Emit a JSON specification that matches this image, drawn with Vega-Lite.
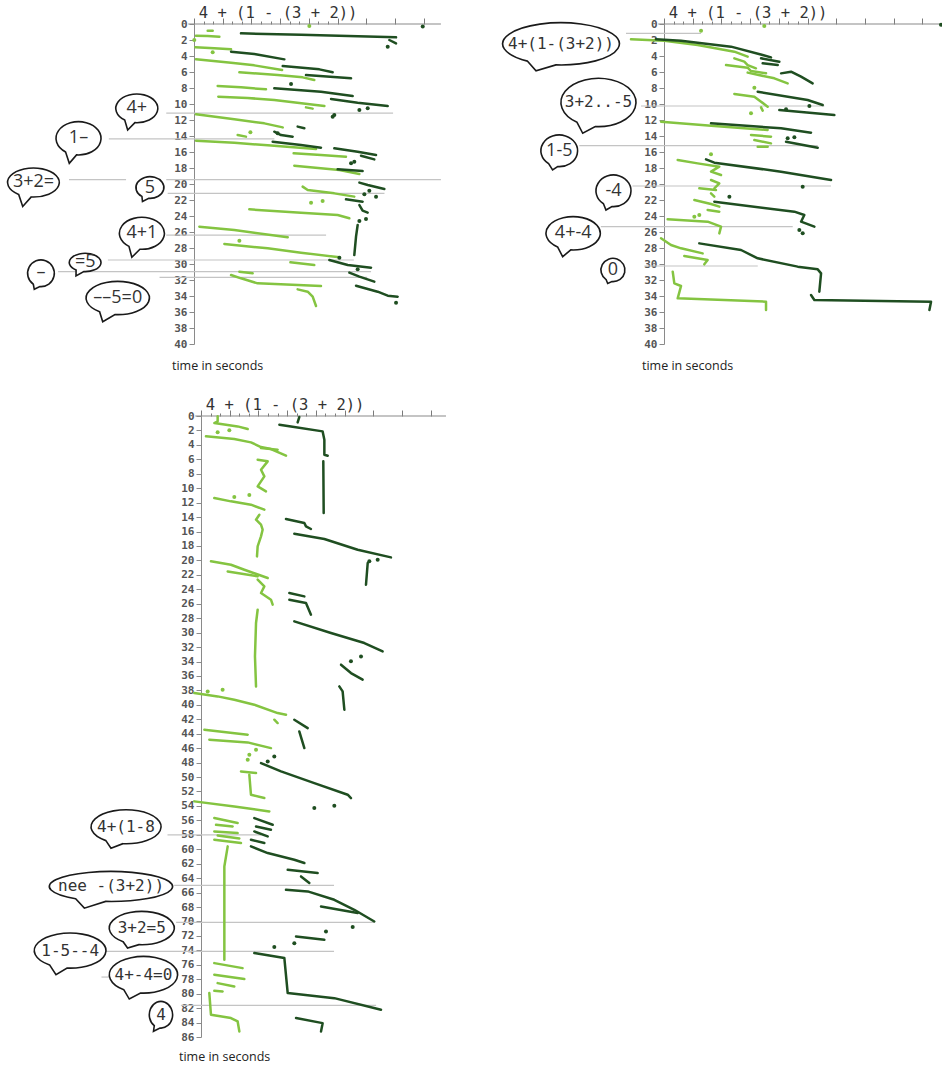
{
  "$schema": "https://vega.github.io/schema/vega-lite/v6.json",
  "background": "white",
  "padding": {"left": 4, "top": 6, "right": 0, "bottom": 4},
  "autosize": {"type": "pad"},
  "config": {"view": {"stroke": null}, "font": "DejaVu Sans"},
  "datasets": {
    "p1": [
      {"id": "a1", "g": "light", "u": [1.43, 1.95], "t": [0.83, 0.83]},
      {"id": "a2", "g": "light", "u": [0.21, 1.43, 2.65], "t": [1.46, 1.5, 1.58]},
      {"id": "a3", "g": "light", "u": [0.14, 2.12, 3.87], "t": [2.92, 3.04, 3.17]},
      {"id": "a4", "g": "light", "u": [0.21, 3.87, 6.3, 9.2], "t": [4.42, 4.83, 5.17, 5.75]},
      {"id": "a5", "g": "light", "u": [4.74, 8.74, 11.35, 12.57], "t": [6.04, 6.38, 6.67, 7.0]},
      {"id": "a6", "g": "light", "u": [2.47, 4.91, 7.52], "t": [7.75, 7.92, 8.17]},
      {"id": "a7", "g": "light", "u": [2.54, 5.61, 8.39, 13.62], "t": [9.08, 9.25, 9.5, 10.25]},
      {"id": "a8", "g": "light", "u": [11.7, 12.4], "t": [10.42, 10.58]},
      {"id": "a9", "g": "light", "u": [0.21, 4.21, 7.35, 9.27], "t": [11.29, 11.92, 12.42, 12.92]},
      {"id": "a10", "g": "light", "u": [4.56, 5.43], "t": [13.88, 14.08]},
      {"id": "a11", "g": "light", "u": [0.21, 4.21, 7.7, 12.75], "t": [14.58, 14.83, 15.17, 15.63]},
      {"id": "a12", "g": "light", "u": [10.41, 13.27, 15.88], "t": [16.17, 16.38, 16.58]},
      {"id": "a13", "g": "light", "u": [10.48, 15.19, 17.28], "t": [17.71, 18.25, 18.75]},
      {"id": "a14", "g": "light", "u": [11.35, 11.88, 14.66, 16.75], "t": [20.33, 20.75, 21.17, 21.58]},
      {"id": "a15", "g": "light", "u": [5.78, 11.18, 15.01, 16.23], "t": [23.17, 23.58, 23.88, 24.29]},
      {"id": "a16", "g": "light", "u": [0.56, 4.21, 9.79], "t": [25.33, 25.75, 26.67]},
      {"id": "a17", "g": "light", "u": [3.17, 7.7, 11.18, 15.19], "t": [27.5, 28.04, 28.58, 29.17]},
      {"id": "a18", "g": "light", "u": [10.07, 12.57], "t": [29.79, 30.13]},
      {"id": "a19", "g": "light", "u": [4.74, 6.13], "t": [30.96, 31.17]},
      {"id": "a20", "g": "light", "u": [3.87, 4.91, 6.65, 13.27], "t": [31.38, 31.79, 32.42, 32.75]},
      {"id": "a21", "g": "light", "u": [10.83, 11.88, 12.4, 12.75], "t": [33.17, 33.46, 34.08, 35.25]},
      {"id": "b1", "g": "dark", "u": [4.91, 11.18, 21.11], "t": [1.17, 1.33, 1.67]},
      {"id": "b2", "g": "dark", "u": [20.41, 21.11], "t": [2.0, 2.42]},
      {"id": "b3", "g": "dark", "u": [3.87, 6.3, 9.44], "t": [3.46, 3.75, 4.42]},
      {"id": "b4", "g": "dark", "u": [9.27, 13.1, 14.49], "t": [5.25, 5.67, 6.04]},
      {"id": "b5", "g": "dark", "u": [11.7, 16.41], "t": [6.38, 6.79]},
      {"id": "b6", "g": "dark", "u": [8.39, 13.27, 16.58], "t": [8.04, 8.46, 9.0]},
      {"id": "b7", "g": "dark", "u": [14.32, 17.1, 20.24], "t": [9.38, 9.83, 10.25]},
      {"id": "b8", "g": "dark", "u": [10.83, 11.53], "t": [12.83, 13.04]},
      {"id": "b9", "g": "dark", "u": [8.39, 9.09, 10.31], "t": [13.46, 13.88, 14.08]},
      {"id": "b10", "g": "dark", "u": [8.22, 11.18, 13.27], "t": [14.71, 15.13, 15.46]},
      {"id": "b11", "g": "dark", "u": [14.66, 17.1, 19.02], "t": [15.54, 15.96, 16.38]},
      {"id": "b12", "g": "dark", "u": [17.45, 18.84], "t": [16.46, 16.92]},
      {"id": "b13", "g": "dark", "u": [15.01, 17.62], "t": [18.17, 18.38]},
      {"id": "b14", "g": "dark", "u": [17.28, 18.15, 19.89], "t": [19.83, 20.13, 20.63]},
      {"id": "b15", "g": "dark", "u": [15.88, 17.62], "t": [21.92, 22.21]},
      {"id": "b16", "g": "dark", "u": [17.28, 17.62, 18.15], "t": [22.63, 23.33, 23.58]},
      {"id": "b17", "g": "dark", "u": [17.1, 16.93, 16.75], "t": [25.13, 26.58, 28.88]},
      {"id": "b18", "g": "dark", "u": [14.14, 16.06, 18.5], "t": [29.5, 30.13, 30.46]},
      {"id": "b19", "g": "dark", "u": [16.23, 17.28, 18.84], "t": [31.08, 31.58, 32.21]},
      {"id": "b20", "g": "dark", "u": [16.93, 19.19, 20.24, 21.28], "t": [32.71, 33.46, 33.96, 34.08]}
    ],
    "dots1": [
      {"g": "light", "u": 0.03, "t": 2.0}, {"g": "light", "u": 1.95, "t": 3.54}, {"g": "light", "u": 4.74, "t": 27.08},
      {"g": "light", "u": 5.89, "t": 13.54}, {"g": "light", "u": 12.23, "t": 22.33}, {"g": "light", "u": 13.44, "t": 22.13},
      {"g": "light", "u": 12.05, "t": 0.25},
      {"g": "dark", "u": 20.24, "t": 2.83}, {"g": "dark", "u": 10.14, "t": 7.5}, {"g": "dark", "u": 17.28, "t": 10.75},
      {"g": "dark", "u": 18.15, "t": 10.54}, {"g": "dark", "u": 14.49, "t": 11.58}, {"g": "dark", "u": 14.66, "t": 11.38},
      {"g": "dark", "u": 16.41, "t": 17.42}, {"g": "dark", "u": 16.75, "t": 17.21}, {"g": "dark", "u": 17.8, "t": 21.29},
      {"g": "dark", "u": 18.32, "t": 20.83}, {"g": "dark", "u": 19.02, "t": 21.58}, {"g": "dark", "u": 17.28, "t": 24.63},
      {"g": "dark", "u": 17.97, "t": 24.38}, {"g": "dark", "u": 15.19, "t": 29.21}, {"g": "dark", "u": 17.1, "t": 30.67},
      {"g": "dark", "u": 21.11, "t": 34.83}, {"g": "dark", "u": 23.9, "t": 0.3}, {"g": "dark", "u": 8.74, "t": 13.67}
    ],
    "lines1": [
      {"t": 11.15, "u": -2.9, "u2": 20.8}, {"t": 14.35, "u": -8.9, "u2": 8.4}, {"t": 19.45, "u": -13.06, "u2": -7.1},
      {"t": 19.45, "u": -2.9, "u2": 25.8}, {"t": 21.17, "u": -2.75, "u2": 19.9}, {"t": 26.4, "u": -2.9, "u2": 13.8},
      {"t": 29.5, "u": -9.0, "u2": 16.7}, {"t": 30.96, "u": -14.2, "u2": 18.5}, {"t": 31.67, "u": -3.6, "u2": 18.1}
    ],
    "axis1": [{"t": 0, "u": -0.6, "u2": 25.8}],
    "expr1": [{"t": -0.7, "u": 0.5, "text": "4 + (1 - (3 + 2))"}],
    "caption1": [{"t": 42.7, "u": -2.3, "text": "time in seconds"}],
    "bubbles1": [
      {"label": "4+", "u": -5.98, "t": 10.54}, {"label": "1–", "u": -12.07, "t": 14.29},
      {"label": "3+2=", "u": -16.77, "t": 19.81}, {"label": "5", "u": -4.6, "t": 20.44},
      {"label": "4+1", "u": -5.45, "t": 26.16}, {"label": "=5", "u": -11.37, "t": 29.81},
      {"label": "–", "u": -15.99, "t": 31.16}, {"label": "––5=0", "u": -7.97, "t": 34.25}
    ],
    "p2": [
      {"id": "c1", "g": "light", "u": [-3.45, 0.03, 3.52, 7.35, 8.74], "t": [1.92, 2.08, 2.63, 3.46, 4.08]},
      {"id": "c2", "g": "light", "u": [7.35, 8.39, 8.74, 9.61], "t": [4.29, 4.71, 5.13, 5.54]},
      {"id": "c3", "g": "light", "u": [6.48, 8.74, 9.09, 10.66], "t": [5.13, 5.46, 5.88, 6.17]},
      {"id": "c4", "g": "light", "u": [8.74, 11.53, 12.92], "t": [6.08, 6.79, 7.42]},
      {"id": "c5", "g": "light", "u": [7.35, 9.44, 10.14, 10.83], "t": [8.75, 9.08, 9.71, 10.33]},
      {"id": "c6", "g": "light", "u": [10.14, 10.31], "t": [10.42, 10.83]},
      {"id": "c7", "g": "light", "u": [-0.31, 5.26, 10.83], "t": [12.21, 12.75, 13.25]},
      {"id": "c8", "g": "light", "u": [9.09, 11.18], "t": [13.88, 14.08]},
      {"id": "c9", "g": "light", "u": [9.44, 11.18], "t": [14.5, 14.92]},
      {"id": "c10", "g": "light", "u": [9.79, 10.83], "t": [15.33, 15.33]},
      {"id": "c11", "g": "light", "u": [1.43, 3.52, 5.78, 4.91, 5.96], "t": [17.0, 17.42, 17.83, 18.46, 18.88]},
      {"id": "c12", "g": "light", "u": [4.91, 5.78, 5.26], "t": [19.5, 19.92, 20.54]},
      {"id": "c13", "g": "light", "u": [3.69, 5.43], "t": [20.54, 20.75]},
      {"id": "c14", "g": "light", "u": [4.91, 5.26], "t": [21.17, 21.58]},
      {"id": "c15", "g": "light", "u": [3.17, 4.91, 5.78], "t": [22.0, 22.5, 22.83]},
      {"id": "c16", "g": "light", "u": [4.56, 5.78], "t": [23.25, 23.46]},
      {"id": "c17", "g": "light", "u": [0.38, 4.56, 5.96, 5.78], "t": [24.42, 24.71, 25.33, 26.17]},
      {"id": "c18", "g": "light", "u": [-0.31, 0.73, 1.78, 4.04], "t": [26.79, 27.63, 28.04, 28.67]},
      {"id": "c19", "g": "light", "u": [2.12, 4.56, 4.21], "t": [29.0, 29.5, 30.04]},
      {"id": "c20", "g": "light", "u": [0.91, 1.08, 1.78, 1.43, 10.66, 10.66], "t": [30.96, 32.42, 32.75, 34.29, 34.71, 35.75]},
      {"id": "d1", "g": "dark", "u": [-0.84, 1.78, 7.0, 10.31, 11.18], "t": [1.92, 2.08, 2.83, 3.88, 4.17]},
      {"id": "d2", "g": "dark", "u": [10.14, 12.05], "t": [4.29, 4.71]},
      {"id": "d3", "g": "dark", "u": [10.31, 11.88], "t": [4.92, 5.13]},
      {"id": "d4", "g": "dark", "u": [12.23, 13.27, 14.32, 15.53], "t": [6.17, 5.96, 6.58, 7.42]},
      {"id": "d5", "g": "dark", "u": [9.79, 15.01, 16.58], "t": [8.46, 9.5, 10.13]},
      {"id": "d6", "g": "dark", "u": [12.05, 17.8], "t": [10.75, 11.38]},
      {"id": "d7", "g": "dark", "u": [4.91, 12.23, 15.36], "t": [12.42, 13.04, 13.58]},
      {"id": "d8", "g": "dark", "u": [12.75, 16.06], "t": [14.71, 15.46]},
      {"id": "d9", "g": "dark", "u": [4.39, 5.26, 12.23, 17.45], "t": [16.92, 17.33, 18.46, 19.5]},
      {"id": "d10", "g": "dark", "u": [5.26, 13.62, 14.66, 14.32, 15.71], "t": [22.21, 23.46, 23.88, 24.71, 25.33]},
      {"id": "d11", "g": "dark", "u": [3.69, 8.05, 9.79, 13.97, 16.06, 16.41, 16.23], "t": [27.42, 28.25, 29.29, 30.33, 30.67, 31.17, 33.46]},
      {"id": "d12", "g": "dark", "u": [15.36, 15.71, 27.9, 27.73], "t": [33.88, 34.5, 34.71, 35.75]}
    ],
    "dots2": [
      {"g": "light", "u": 3.87, "t": 0.83}, {"g": "light", "u": 10.48, "t": 0.25}, {"g": "light", "u": 9.44, "t": 7.96},
      {"g": "light", "u": 9.09, "t": 11.17}, {"g": "light", "u": 4.91, "t": 16.29}, {"g": "light", "u": 3.69, "t": 23.88},
      {"g": "light", "u": 3.17, "t": 24.08},
      {"g": "dark", "u": 12.75, "t": 10.67}, {"g": "dark", "u": 15.19, "t": 10.25}, {"g": "dark", "u": 12.92, "t": 14.29},
      {"g": "dark", "u": 13.62, "t": 14.17}, {"g": "dark", "u": 14.49, "t": 20.33}, {"g": "dark", "u": 6.83, "t": 21.58},
      {"g": "dark", "u": 14.14, "t": 25.75}, {"g": "dark", "u": 14.49, "t": 26.17}, {"g": "dark", "u": 28.94, "t": 0.1}
    ],
    "lines2": [
      {"t": 1.17, "u": -3.97, "u2": 3.87}, {"t": 10.25, "u": -2.4, "u2": 16.75}, {"t": 15.2, "u": -8.85, "u2": 16.06},
      {"t": 20.25, "u": -3.3, "u2": 17.45}, {"t": 25.33, "u": -6.6, "u2": 13.45}, {"t": 30.25, "u": -2.05, "u2": 9.8}
    ],
    "axis2": [{"t": 0, "u": -0.6, "u2": 29.15}],
    "expr2": [{"t": -0.7, "u": 0.5, "text": "4 + (1 - (3 + 2))"}],
    "caption2": [{"t": 42.7, "u": -2.3, "text": "time in seconds"}],
    "bubbles2": [
      {"label": "4+(1-(3+2))", "u": -10.76, "t": 2.48}, {"label": "3+2..-5", "u": -6.84, "t": 9.81},
      {"label": "1-5", "u": -10.94, "t": 15.85}, {"label": "-4", "u": -5.28, "t": 20.85},
      {"label": "4+-4", "u": -9.49, "t": 26.16}, {"label": "0", "u": -5.33, "t": 30.75}
    ],
    "p3": [
      {"id": "e1", "g": "light", "u": [1.74, 1.74, 1.39, 3.83, 4.88], "t": [0.05, 0.74, 0.97, 1.44, 1.81]},
      {"id": "e2", "g": "light", "u": [0.52, 3.48, 5.22, 6.27, 7.31, 8.88], "t": [2.82, 3.19, 3.65, 4.3, 4.58, 5.5]},
      {"id": "e3", "g": "light", "u": [6.27, 8.01], "t": [4.44, 4.67]},
      {"id": "e4", "g": "light", "u": [5.92, 6.97, 6.27, 6.62, 5.92, 6.79], "t": [6.05, 6.28, 7.44, 8.36, 9.75, 10.44]},
      {"id": "e5", "g": "light", "u": [1.39, 3.13, 5.22, 6.62], "t": [11.36, 11.82, 12.28, 12.97]},
      {"id": "e6", "g": "light", "u": [6.1, 5.75, 6.27, 6.44, 6.27, 5.92, 5.85], "t": [13.67, 14.36, 15.05, 15.75, 16.67, 18.05, 19.44]},
      {"id": "e7", "g": "light", "u": [1.04, 3.13, 4.53, 6.97], "t": [20.13, 20.6, 21.29, 22.44]},
      {"id": "e8", "g": "light", "u": [2.79, 5.92], "t": [21.52, 22.21]},
      {"id": "e9", "g": "light", "u": [5.92, 6.62, 6.27, 7.31, 7.49], "t": [22.67, 23.6, 24.51, 25.44, 26.13]},
      {"id": "e10", "g": "light", "u": [5.92, 5.75, 5.64, 5.75], "t": [26.83, 28.67, 33.29, 37.45]},
      {"id": "e11", "g": "light", "u": [-0.7, 1.74, 3.48, 5.57, 8.01, 8.88], "t": [38.37, 38.83, 39.29, 39.98, 41.14, 41.37]},
      {"id": "e12", "g": "light", "u": [7.66, 8.01], "t": [42.06, 42.52]},
      {"id": "e13", "g": "light", "u": [0.35, 4.88], "t": [43.45, 44.14]},
      {"id": "e14", "g": "light", "u": [0.87, 4.88, 7.31], "t": [44.83, 45.2, 45.99]},
      {"id": "e15", "g": "light", "u": [4.18, 5.75], "t": [49.22, 49.45]},
      {"id": "e16", "g": "light", "u": [5.05, 5.22, 6.62], "t": [49.68, 52.45, 52.91]},
      {"id": "e17", "g": "light", "u": [-0.7, 3.48, 7.14], "t": [53.37, 54.07, 54.76]},
      {"id": "e18", "g": "light", "u": [1.39, 3.83], "t": [55.68, 56.37]},
      {"id": "e19", "g": "light", "u": [1.57, 3.31], "t": [56.61, 56.84]},
      {"id": "e20", "g": "light", "u": [1.39, 3.83], "t": [57.53, 57.76]},
      {"id": "e21", "g": "light", "u": [1.74, 4.01], "t": [58.1, 58.5]},
      {"id": "e22", "g": "light", "u": [1.39, 4.18], "t": [58.68, 59.14]},
      {"id": "e23", "g": "light", "u": [2.79, 2.44, 2.44], "t": [59.6, 62.38, 75.3]},
      {"id": "e24", "g": "light", "u": [1.39, 4.35], "t": [75.77, 76.46]},
      {"id": "e25", "g": "light", "u": [1.39, 4.53], "t": [77.38, 77.98]},
      {"id": "e26", "g": "light", "u": [1.74, 3.48], "t": [78.54, 79.0]},
      {"id": "e27", "g": "light", "u": [1.39, 2.26], "t": [79.6, 79.69]},
      {"id": "e28", "g": "light", "u": [0.87, 1.04, 3.13, 3.83, 4.01], "t": [79.92, 82.92, 83.38, 83.85, 85.23]},
      {"id": "f1", "g": "dark", "u": [10.27, 10.1], "t": [0.14, 0.88]},
      {"id": "f2", "g": "dark", "u": [8.19, 9.4, 12.71, 12.89, 12.89, 13.24], "t": [1.2, 1.44, 2.13, 3.28, 5.36, 5.5]},
      {"id": "f3", "g": "dark", "u": [12.78, 12.82], "t": [6.28, 13.44]},
      {"id": "f4", "g": "dark", "u": [8.88, 10.8, 10.97, 11.49], "t": [14.27, 14.82, 15.28, 15.65]},
      {"id": "f5", "g": "dark", "u": [9.75, 12.89, 16.37, 19.85], "t": [16.3, 17.04, 18.52, 19.58]},
      {"id": "f6", "g": "dark", "u": [17.42, 17.24], "t": [20.36, 23.37]},
      {"id": "f7", "g": "dark", "u": [9.23, 10.8], "t": [24.52, 24.98]},
      {"id": "f8", "g": "dark", "u": [9.23, 10.97, 11.49], "t": [25.44, 25.9, 27.52]},
      {"id": "f9", "g": "dark", "u": [9.75, 13.58, 17.07, 18.98], "t": [28.44, 30.06, 31.44, 32.6]},
      {"id": "f10", "g": "dark", "u": [14.63, 15.67, 16.89], "t": [34.44, 35.6, 36.52]},
      {"id": "f11", "g": "dark", "u": [14.45, 14.8, 14.98], "t": [37.45, 38.14, 40.68]},
      {"id": "f12", "g": "dark", "u": [9.75, 11.15], "t": [42.06, 43.22]},
      {"id": "f13", "g": "dark", "u": [10.27, 10.8], "t": [43.68, 45.99]},
      {"id": "f14", "g": "dark", "u": [6.27, 8.36, 11.84, 15.33, 15.67], "t": [48.07, 49.22, 50.84, 52.45, 52.91]},
      {"id": "f15", "g": "dark", "u": [5.57, 7.49], "t": [55.68, 56.61]},
      {"id": "f16", "g": "dark", "u": [5.75, 7.31], "t": [56.84, 57.3]},
      {"id": "f17", "g": "dark", "u": [5.57, 6.97], "t": [57.53, 58.22]},
      {"id": "f18", "g": "dark", "u": [5.22, 6.62], "t": [58.68, 59.14]},
      {"id": "f19", "g": "dark", "u": [5.22, 6.97, 9.75, 10.8], "t": [59.6, 60.53, 61.45, 61.91]},
      {"id": "f20", "g": "dark", "u": [9.06, 12.19], "t": [62.84, 63.3]},
      {"id": "f21", "g": "dark", "u": [10.45, 11.32], "t": [63.76, 64.68]},
      {"id": "f22", "g": "dark", "u": [8.88, 11.15, 13.93, 16.02, 18.11], "t": [65.61, 65.84, 67.0, 68.38, 70.0]},
      {"id": "f23", "g": "dark", "u": [12.54, 16.37], "t": [67.92, 68.84]},
      {"id": "f24", "g": "dark", "u": [9.93, 12.89], "t": [72.07, 72.53]},
      {"id": "f25", "g": "dark", "u": [5.57, 8.71, 9.06, 13.93, 18.81], "t": [74.38, 75.07, 79.92, 80.62, 82.23]},
      {"id": "f26", "g": "dark", "u": [9.93, 12.71, 12.54], "t": [83.38, 84.08, 85.23]}
    ],
    "dots3": [
      {"g": "light", "u": 1.74, "t": 2.26}, {"g": "light", "u": 2.96, "t": 1.99}, {"g": "light", "u": 3.48, "t": 11.22},
      {"g": "light", "u": 5.05, "t": 10.95}, {"g": "light", "u": 0.7, "t": 38.14}, {"g": "light", "u": 2.26, "t": 37.91},
      {"g": "light", "u": 5.75, "t": 46.22}, {"g": "light", "u": 5.05, "t": 46.91}, {"g": "light", "u": 4.88, "t": 47.6},
      {"g": "dark", "u": 17.59, "t": 20.13}, {"g": "dark", "u": 18.46, "t": 19.9}, {"g": "dark", "u": 15.67, "t": 33.98},
      {"g": "dark", "u": 16.72, "t": 33.29}, {"g": "dark", "u": 6.97, "t": 47.84}, {"g": "dark", "u": 7.66, "t": 47.15},
      {"g": "dark", "u": 11.84, "t": 54.3}, {"g": "dark", "u": 13.93, "t": 53.98}, {"g": "dark", "u": 13.06, "t": 71.38},
      {"g": "dark", "u": 15.85, "t": 70.78}, {"g": "dark", "u": 9.75, "t": 73.0}, {"g": "dark", "u": 7.66, "t": 73.55}
    ],
    "lines3": [
      {"t": 58.0, "u": -3.5, "u2": 6.27}, {"t": 65.0, "u": -2.8, "u2": 13.9}, {"t": 70.13, "u": -2.6, "u2": 18.1},
      {"t": 74.15, "u": -9.9, "u2": 13.9}, {"t": 77.7, "u": -10.4, "u2": -9.6}, {"t": 81.63, "u": -2.1, "u2": 18.3}
    ],
    "axis3": [{"t": 0, "u": -0.6, "u2": 25.6}],
    "expr3": [{"t": -0.8, "u": 0.5, "text": "4 + (1 - (3 + 2))"}],
    "caption3": [{"t": 88.8, "u": -2.3, "text": "time in seconds"}],
    "bubbles3": [
      {"label": "4+(1-8", "u": -7.84, "t": 56.88}, {"label": "nee -(3+2))", "u": -9.4, "t": 65.15},
      {"label": "3+2=5", "u": -6.19, "t": 70.91}, {"label": "1-5--4", "u": -13.67, "t": 74.03},
      {"label": "4+-4=0", "u": -6.01, "t": 77.38}, {"label": "4", "u": -4.18, "t": 82.92}
    ]
  },
  "resolve": {"scale": {"shape": "independent", "color": "independent"}},
  "bounds": "flush",
  "columns": 2,
  "spacing": {"row": 72, "column": 53},
  "concat": [
    {
      "width": 442,
      "height": 320,
      "encoding": {
        "x": {"field": "u", "type": "quantitative",
          "scale": {"domain": [-19.645, 26.54], "nice": false, "zero": false},
          "axis": {"orient": "top", "domain": false, "labels": false, "grid": false, "title": null,
            "values": [0, 1, 2, 3, 4, 5, 6, 7, 8, 9, 10, 11, 12, 13, 14, 15, 18, 21, 24],
            "tickColor": "#7a7a7a",
            "tickSize": {"condition": {"test": "datum.value % 3 === 0", "value": 6}, "value": 3}}},
        "y": {"field": "t", "type": "quantitative",
          "scale": {"domain": [0, 40], "nice": false, "zero": false, "reverse": true},
          "axis": {"orient": "left", "offset": -188, "grid": false, "title": null,
            "values": [0, 2, 4, 6, 8, 10, 12, 14, 16, 18, 20, 22, 24, 26, 28, 30, 32, 34, 36, 38, 40],
            "domainColor": "#8a8a8a", "tickColor": "#8a8a8a", "tickSize": 5,
            "labelFont": "DejaVu Sans Mono", "labelFontWeight": "bold", "labelFontSize": 11,
            "labelColor": "#555555", "labelPadding": 2}}
      },
      "layer": [
        {"data": {"name": "lines1"}, "mark": {"type": "rule", "color": "#c4c4c4", "strokeWidth": 1.2},
          "encoding": {"x2": {"field": "u2"}}},
        {"data": {"name": "axis1"}, "mark": {"type": "rule", "color": "#8a8a8a", "strokeWidth": 1.2},
          "encoding": {"x2": {"field": "u2"}}},
        {"data": {"name": "p1"}, "transform": [{"flatten": ["u", "t"]}],
          "mark": {"type": "line", "strokeWidth": 2.5, "strokeCap": "round", "strokeJoin": "round"},
          "encoding": {"detail": {"field": "id"}, "order": {"value": null},
            "color": {"field": "g", "type": "nominal", "scale": {"domain": ["light", "dark"], "range": ["#84c441", "#1f4e21"]}, "legend": null}}},
        {"data": {"name": "dots1"}, "mark": {"type": "circle", "size": 16, "opacity": 1},
          "encoding": {"color": {"field": "g", "type": "nominal", "scale": {"domain": ["light", "dark"], "range": ["#84c441", "#1f4e21"]}, "legend": null}}},
        {"data": {"name": "bubbles1"},
          "mark": {"type": "point", "filled": true, "fill": "white", "stroke": "#1a1a1a", "strokeWidth": 1.6, "opacity": 1, "size": 10000},
          "encoding": {"shape": {"field": "label", "type": "nominal", "legend": null,
            "scale": {"domain": ["4+", "1–", "3+2=", "5", "4+1", "=5", "–", "––5=0"],
              "range": [
                "M -0.037 0.286 A 0.42 0.287 0 1 0 -0.241 0.235 L -0.182 0.434 Z",
                "M -0.039 0.332 A 0.45 0.333 0 1 0 -0.258 0.273 L -0.184 0.5 Z",
                "M -0.045 0.289 A 0.517 0.29 0 1 0 -0.297 0.238 L -0.216 0.48 Z",
                "M -0.024 0.216 A 0.28 0.217 0 1 0 -0.161 0.178 L -0.15 0.28 Z",
                "M -0.039 0.319 A 0.45 0.32 0 1 0 -0.258 0.262 L -0.2 0.48 Z",
                "M -0.028 0.182 A 0.317 0.183 0 1 0 -0.182 0.15 L -0.184 0.27 Z",
                "M -0.023 0.266 A 0.267 0.267 0 1 0 -0.153 0.219 L -0.134 0.32 Z",
                "M -0.055 0.332 A 0.633 0.333 0 1 0 -0.363 0.273 L -0.3 0.474 Z"]}}}},
        {"data": {"name": "bubbles1"},
          "mark": {"type": "text", "font": "Open Sans", "fontSize": 18, "color": "#333333", "baseline": "middle"},
          "encoding": {"text": {"field": "label"}}},
        {"data": {"name": "expr1"},
          "mark": {"type": "text", "font": "DejaVu Sans Mono", "fontSize": 15.5, "align": "left", "baseline": "alphabetic", "color": "#333333"},
          "encoding": {"text": {"field": "text"}}},
        {"data": {"name": "caption1"},
          "mark": {"type": "text", "font": "Open Sans", "fontSize": 12.5, "align": "left", "baseline": "middle", "color": "#222222"},
          "encoding": {"text": {"field": "text"}}}
      ]
    },
    {
      "width": 442,
      "height": 320,
      "encoding": {
        "x": {"field": "u", "type": "quantitative",
          "scale": {"domain": [-17.03, 29.15], "nice": false, "zero": false},
          "axis": {"orient": "top", "domain": false, "labels": false, "grid": false, "title": null,
            "values": [0, 1, 2, 3, 4, 5, 6, 7, 8, 9, 10, 11, 12, 13, 14, 15, 18, 21, 24, 27],
            "tickColor": "#7a7a7a",
            "tickSize": {"condition": {"test": "datum.value % 3 === 0", "value": 6}, "value": 3}}},
        "y": {"field": "t", "type": "quantitative",
          "scale": {"domain": [0, 40], "nice": false, "zero": false, "reverse": true},
          "axis": {"orient": "left", "offset": -163, "grid": false, "title": null,
            "values": [0, 2, 4, 6, 8, 10, 12, 14, 16, 18, 20, 22, 24, 26, 28, 30, 32, 34, 36, 38, 40],
            "domainColor": "#8a8a8a", "tickColor": "#8a8a8a", "tickSize": 5,
            "labelFont": "DejaVu Sans Mono", "labelFontWeight": "bold", "labelFontSize": 11,
            "labelColor": "#555555", "labelPadding": 2}}
      },
      "layer": [
        {"data": {"name": "lines2"}, "mark": {"type": "rule", "color": "#c4c4c4", "strokeWidth": 1.2},
          "encoding": {"x2": {"field": "u2"}}},
        {"data": {"name": "axis2"}, "mark": {"type": "rule", "color": "#8a8a8a", "strokeWidth": 1.2},
          "encoding": {"x2": {"field": "u2"}}},
        {"data": {"name": "p2"}, "transform": [{"flatten": ["u", "t"]}],
          "mark": {"type": "line", "strokeWidth": 2.5, "strokeCap": "round", "strokeJoin": "round"},
          "encoding": {"detail": {"field": "id"}, "order": {"value": null},
            "color": {"field": "g", "type": "nominal", "scale": {"domain": ["light", "dark"], "range": ["#84c441", "#1f4e21"]}, "legend": null}}},
        {"data": {"name": "dots2"}, "mark": {"type": "circle", "size": 16, "opacity": 1},
          "encoding": {"color": {"field": "g", "type": "nominal", "scale": {"domain": ["light", "dark"], "range": ["#84c441", "#1f4e21"]}, "legend": null}}},
        {"data": {"name": "bubbles2"},
          "mark": {"type": "point", "filled": true, "fill": "white", "stroke": "#1a1a1a", "strokeWidth": 1.6, "opacity": 1, "size": 10000},
          "encoding": {"shape": {"field": "label", "type": "nominal", "legend": null,
            "scale": {"domain": ["4+(1-(3+2))", "3+2..-5", "1-5", "-4", "4+-4", "0"],
              "range": [
                "M -0.102 0.421 A 1.167 0.423 0 1 0 -0.67 0.346 L -0.5 0.538 Z",
                "M -0.065 0.481 A 0.75 0.483 0 1 0 -0.43 0.396 L -0.316 0.616 Z",
                "M -0.032 0.316 A 0.367 0.317 0 1 0 -0.211 0.26 L -0.134 0.384 Z",
                "M -0.03 0.316 A 0.35 0.317 0 1 0 -0.2 0.26 L -0.15 0.384 Z",
                "M -0.047 0.332 A 0.543 0.333 0 1 0 -0.312 0.273 L -0.21 0.468 Z",
                "M -0.021 0.232 A 0.24 0.233 0 1 0 -0.138 0.191 L -0.106 0.27 Z"]}}}},
        {"data": {"name": "bubbles2"},
          "transform": [{"filter": {"field": "label", "oneOf": ["4+(1-(3+2))", "3+2..-5"]}}],
          "mark": {"type": "text", "font": "DejaVu Sans Mono", "fontSize": 16, "color": "#333333", "baseline": "middle"},
          "encoding": {"text": {"field": "label"}}},
        {"data": {"name": "bubbles2"},
          "transform": [{"filter": {"field": "label", "oneOf": ["1-5", "-4", "4+-4", "0"]}}],
          "mark": {"type": "text", "font": "Open Sans", "fontSize": 18, "color": "#333333", "baseline": "middle"},
          "encoding": {"text": {"field": "label"}}},
        {"data": {"name": "expr2"},
          "mark": {"type": "text", "font": "DejaVu Sans Mono", "fontSize": 15.5, "align": "left", "baseline": "alphabetic", "color": "#333333"},
          "encoding": {"text": {"field": "text"}}},
        {"data": {"name": "caption2"},
          "mark": {"type": "text", "font": "Open Sans", "fontSize": 12.5, "align": "left", "baseline": "middle", "color": "#222222"},
          "encoding": {"text": {"field": "text"}}}
      ]
    },
    {
      "width": 442,
      "height": 621,
      "encoding": {
        "x": {"field": "u", "type": "quantitative",
          "scale": {"domain": [-20.376, 25.81], "nice": false, "zero": false},
          "axis": {"orient": "top", "domain": false, "labels": false, "grid": false, "title": null,
            "values": [0, 1, 2, 3, 4, 5, 6, 7, 8, 9, 10, 11, 12, 13, 14, 15, 18, 21, 24],
            "tickColor": "#7a7a7a",
            "tickSize": {"condition": {"test": "datum.value % 3 === 0", "value": 6}, "value": 3}}},
        "y": {"field": "t", "type": "quantitative",
          "scale": {"domain": [0, 86], "nice": false, "zero": false, "reverse": true},
          "axis": {"orient": "left", "offset": -195, "grid": false, "title": null,
            "values": [0, 2, 4, 6, 8, 10, 12, 14, 16, 18, 20, 22, 24, 26, 28, 30, 32, 34, 36, 38, 40, 42, 44, 46, 48, 50, 52, 54, 56, 58, 60, 62, 64, 66, 68, 70, 72, 74, 76, 78, 80, 82, 84, 86],
            "domainColor": "#8a8a8a", "tickColor": "#8a8a8a", "tickSize": 5,
            "labelFont": "DejaVu Sans Mono", "labelFontWeight": "bold", "labelFontSize": 11,
            "labelColor": "#555555", "labelPadding": 2}}
      },
      "layer": [
        {"data": {"name": "lines3"}, "mark": {"type": "rule", "color": "#c4c4c4", "strokeWidth": 1.2},
          "encoding": {"x2": {"field": "u2"}}},
        {"data": {"name": "axis3"}, "mark": {"type": "rule", "color": "#8a8a8a", "strokeWidth": 1.2},
          "encoding": {"x2": {"field": "u2"}}},
        {"data": {"name": "p3"}, "transform": [{"flatten": ["u", "t"]}],
          "mark": {"type": "line", "strokeWidth": 2.5, "strokeCap": "round", "strokeJoin": "round"},
          "encoding": {"detail": {"field": "id"}, "order": {"value": null},
            "color": {"field": "g", "type": "nominal", "scale": {"domain": ["light", "dark"], "range": ["#84c441", "#1f4e21"]}, "legend": null}}},
        {"data": {"name": "dots3"}, "mark": {"type": "circle", "size": 16, "opacity": 1},
          "encoding": {"color": {"field": "g", "type": "nominal", "scale": {"domain": ["light", "dark"], "range": ["#84c441", "#1f4e21"]}, "legend": null}}},
        {"data": {"name": "bubbles3"},
          "mark": {"type": "point", "filled": true, "fill": "white", "stroke": "#1a1a1a", "strokeWidth": 1.6, "opacity": 1, "size": 10000},
          "encoding": {"shape": {"field": "label", "type": "nominal", "legend": null,
            "scale": {"domain": ["4+(1-8", "nee -(3+2))", "3+2=5", "1-5--4", "4+-4=0", "4"],
              "range": [
                "M -0.061 0.339 A 0.7 0.34 0 1 0 -0.402 0.278 L -0.3 0.43 Z",
                "M -0.107 0.299 A 1.233 0.3 0 1 0 -0.708 0.246 L -0.534 0.434 Z",
                "M -0.057 0.332 A 0.65 0.333 0 1 0 -0.373 0.273 L -0.284 0.4 Z",
                "M -0.062 0.349 A 0.717 0.35 0 1 0 -0.412 0.287 L -0.284 0.484 Z",
                "M -0.059 0.366 A 0.683 0.367 0 1 0 -0.392 0.301 L -0.284 0.486 Z",
                "M -0.02 0.266 A 0.233 0.267 0 1 0 -0.134 0.219 L -0.15 0.33 Z"]}}}},
        {"data": {"name": "bubbles3"},
          "mark": {"type": "text", "font": "DejaVu Sans Mono", "fontSize": 16, "color": "#333333", "baseline": "middle"},
          "encoding": {"text": {"field": "label"}}},
        {"data": {"name": "expr3"},
          "mark": {"type": "text", "font": "DejaVu Sans Mono", "fontSize": 15.5, "align": "left", "baseline": "alphabetic", "color": "#333333"},
          "encoding": {"text": {"field": "text"}}},
        {"data": {"name": "caption3"},
          "mark": {"type": "text", "font": "Open Sans", "fontSize": 12.5, "align": "left", "baseline": "middle", "color": "#222222"},
          "encoding": {"text": {"field": "text"}}}
      ]
    }
  ]
}
